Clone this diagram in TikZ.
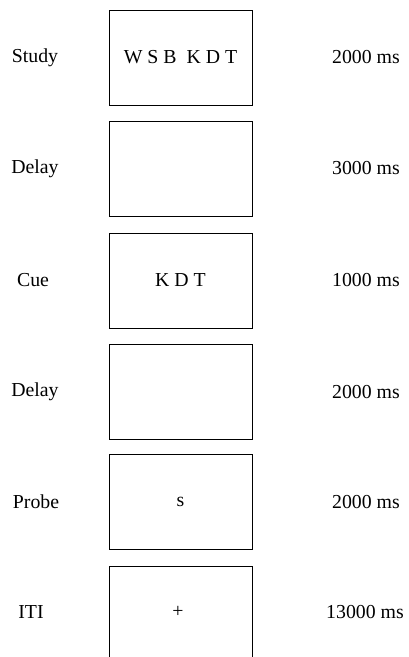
\documentclass[tikz,border=0pt]{standalone}
\usepackage{fontspec}
\setmainfont{Liberation Serif}
\begin{document}
\begin{tikzpicture}[x=1pt,y=-1pt,
  screen/.style={draw, line width=1pt, minimum width=143pt, minimum height=95pt, inner sep=0pt, anchor=center, font=\fontsize{19.8}{22}\selectfont},
  lab/.style={font=\fontsize{19.8}{22}\selectfont, anchor=center, inner sep=0pt}]
\useasboundingbox (0,0) rectangle (409,657);
% boxes
\node[screen] (b1) at (180.5,57.5) {W S B~~K D T};
\node[screen] (b2) at (180.5,168.5) {};
\node[screen] (b3) at (180.5,280.5) {K D T};
\node[screen] (b4) at (180.5,392) {};
\node[screen] (b5) at (180.5,502) {s};
% last (cut-off) box
\coordinate (b6tl) at (109,566);
\coordinate (b6tr) at (252,566);
\coordinate (b6bl) at (109,658);
\coordinate (b6br) at (252,658);
\draw[line width=1pt] (b6bl) -- (b6tl) -- (b6tr) -- (b6br);
\node[lab] (b6) at (178,612) {+};
% left labels
\node[lab] (l1) at (35,57.5) {Study};
\node[lab] (l2) at (35,168.5) {Delay};
\node[lab] (l3) at (33,280.5) {Cue};
\node[lab] (l4) at (35,392) {Delay};
\node[lab] (l5) at (36,502) {Probe};
\node[lab] (l6) at (31,612) {ITI};
% right labels
\node[lab] (r1) at (366,57.5) {2000 ms};
\node[lab] (r2) at (366,168.5) {3000 ms};
\node[lab] (r3) at (366,280.5) {1000 ms};
\node[lab] (r4) at (366,392) {2000 ms};
\node[lab] (r5) at (366,502) {2000 ms};
\node[lab] (r6) at (365,612) {13000 ms};
\end{tikzpicture}
\end{document}
